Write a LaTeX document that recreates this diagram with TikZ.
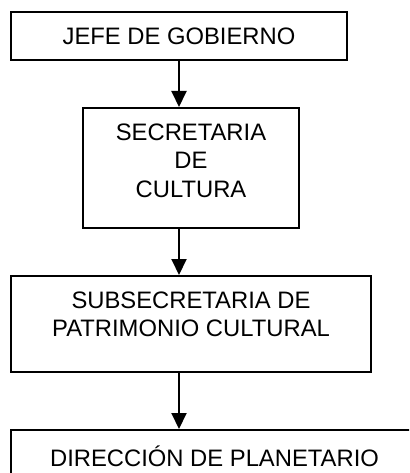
\documentclass[tikz,border=0pt]{standalone}
\usepackage{fontspec}
\setmainfont{Liberation Sans}
\usetikzlibrary{arrows.meta, positioning}

\tikzset{
  caja/.style={draw, line width=2pt, align=center, inner sep=0pt,
    font=\fontsize{23.8}{28.4}\selectfont},
  flecha/.style={line width=2pt, -{Triangle[length=16pt, width=15pt]}}
}

\begin{document}
\begin{tikzpicture}[x=1pt, y=1pt]
  \useasboundingbox (0,0) rectangle (409,-473);
  \clip (0,0) rectangle (409,-473);

  % Cajas del organigrama
  \node[caja, minimum width=336pt, minimum height=48pt] (jefe) at (179,-36) {JEFE DE GOBIERNO};
  \node[caja, minimum width=216pt, minimum height=120pt, text height=74pt, text depth=16pt] (secretaria) at (191,-168) {SECRETARIA\\DE\\CULTURA};
  \node[caja, minimum width=360pt, minimum height=96pt, text height=46pt, text depth=20.6pt] (subsecretaria) at (191,-324) {SUBSECRETARIA DE\\PATRIMONIO CULTURAL};
  \node[caja, minimum width=407pt, minimum height=52pt] (planetario) at (214.5,-456) {DIRECCIÓN DE PLANETARIO};

  % Flechas
  \coordinate (eje) at (179,0);
  \draw[flecha] (jefe.south -| eje) -- (secretaria.north -| eje);
  \draw[flecha] (secretaria.south -| eje) -- (subsecretaria.north -| eje);
  \draw[flecha] (subsecretaria.south -| eje) -- (planetario.north -| eje);
\end{tikzpicture}
\end{document}
